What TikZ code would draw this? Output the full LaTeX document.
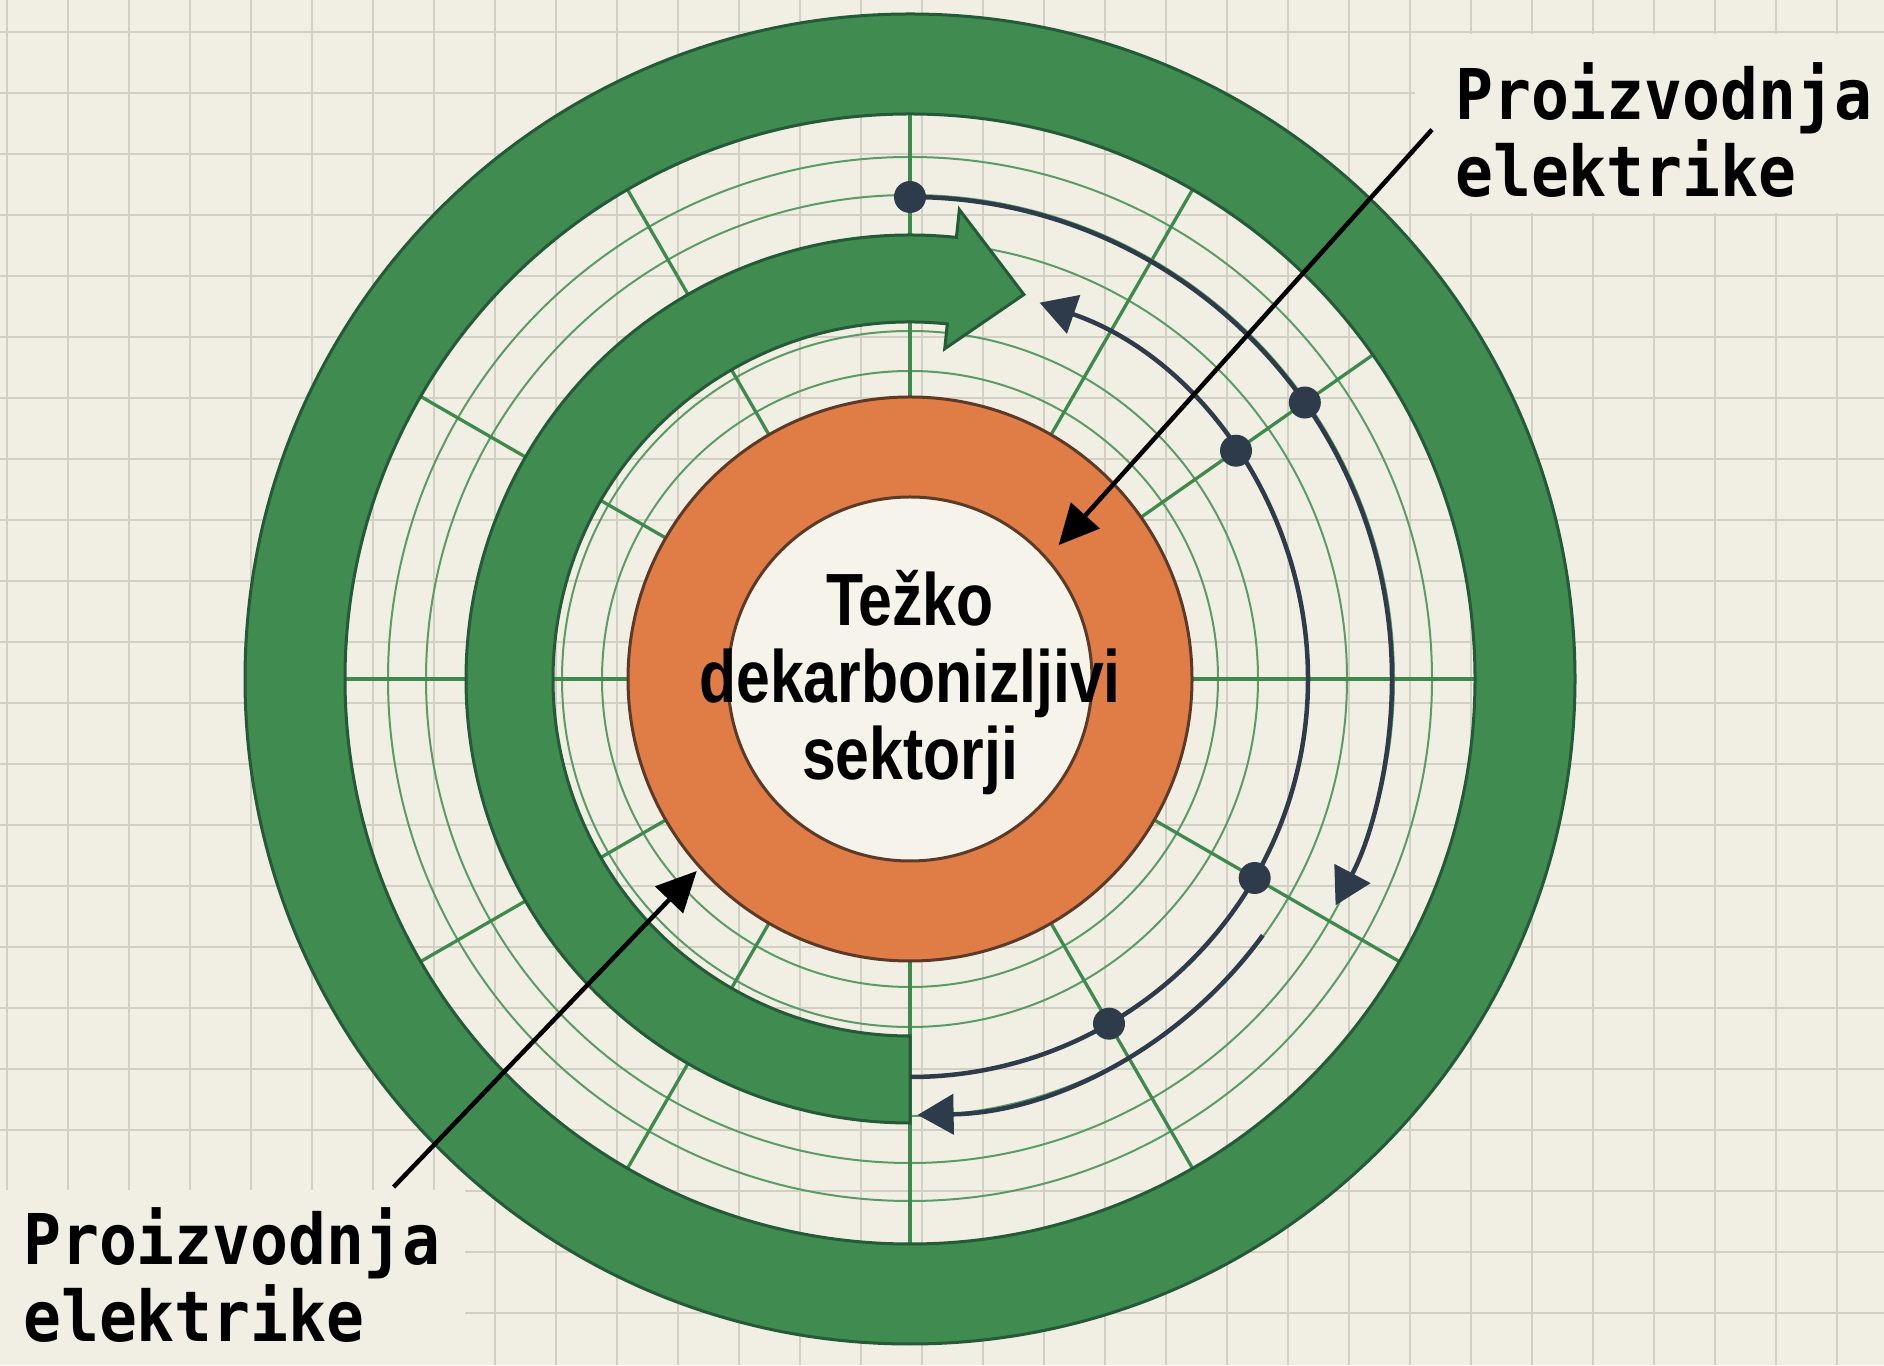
\documentclass[tikz,border=0pt]{standalone}
\usepackage{fontspec}
\setmainfont{Liberation Sans}
\newfontfamily\calloutfont[FakeStretch=0.9]{DejaVu Sans Mono}
\newfontfamily\hubfont[FakeStretch=0.82]{Liberation Sans}
\usepackage{tikz}
\usetikzlibrary{arrows.meta}
\definecolor{paper}{HTML}{F1EFE4}
\definecolor{gridline}{HTML}{D2CFC4}
\definecolor{leaf}{HTML}{3F8B50}
\definecolor{leafdark}{HTML}{245A37}
\definecolor{spoke}{HTML}{3E8A4B}
\definecolor{ember}{HTML}{E07C46}
\definecolor{emberdark}{HTML}{5B3A28}
\definecolor{slate}{HTML}{2D3B4A}
\definecolor{core}{HTML}{F5F3EA}
\tikzstyle{ring} = [draw=leafdark, line width=3pt, fill=leaf]
\tikzstyle{band} = [draw=leafdark, line width=3pt, fill=leaf]
\tikzstyle{rust} = [draw=emberdark, line width=3pt, fill=ember]
\tikzstyle{ringline} = [draw=spoke!85, line width=2pt]
\tikzstyle{spokeline} = [draw=spoke, line width=3.3pt]
\tikzstyle{flow} = [draw=slate, line width=4.5pt, -{Triangle[length=36pt,width=40pt]}]
\tikzstyle{pin} = [circle, fill=slate, inner sep=0pt, minimum size=32pt]
\tikzstyle{hub} = [align=center, inner sep=0pt,
    font=\hubfont\bfseries\fontsize{74}{77}\selectfont]
\tikzstyle{callouttext} = [align=left, inner sep=0pt,
    font=\calloutfont\bfseries\fontsize{70}{77}\selectfont]
\tikzstyle{callout} = [draw=black, line width=4.5pt, -{Triangle[length=40pt,width=38pt]}]

\begin{document}
\begin{tikzpicture}[x=1pt, y=1pt]
    \useasboundingbox (0,0) rectangle (1884,1365);
    % Paper and grid
    \fill[paper] (0,0) rectangle (1884,1365);
    \foreach \gx in {0,...,30}
        \draw[gridline, line width=2pt] (7+61*\gx,0) -- (7+61*\gx,1365);
    \foreach \gy in {0,...,22}
        \draw[gridline, line width=2pt] (0,1333-61*\gy) -- (1884,1333-61*\gy);
    \fill[paper] (1415,1152) rectangle (1884,1331);
    \fill[paper] (0,0) rectangle (465,175);
    \begin{scope}[shift={(910,686)}]
        % Rings and spokes
        \foreach \r in {308,348,437,484,522}
            \draw[ringline] (0,0) circle[radius=\r];
        \foreach \a in {0,35,60,90,120,150,180,210,240,270,300,330}
            \draw[spokeline] (\a:282) -- (\a:565);
        \path[ring, even odd rule] (0,0) circle[radius=665] (0,0) circle[radius=565];
        \path[band] (270:444) arc[start angle=270, end angle=84, radius=444]
            -- (84:472) -- (73.5:401) -- (84:332) -- (84:357)
            arc[start angle=84, end angle=270, radius=357] -- cycle;
        \fill[core] (0,0) circle[radius=182];
        \path[rust, even odd rule] (0,0) circle[radius=282] (0,0) circle[radius=182];
        % Flows
        \draw[flow] (90:482) arc[start angle=90, end angle=-28, radius=482];
        \draw[flow] (-90:398) arc[start angle=-90, end angle=71, radius=398];
        \draw[flow] (-36:436) arc[start angle=-36, end angle=-89, radius=436];
        % Place nodes
        \node[pin] (pinTop) at (90:482) {};
        \node[pin] (pinOuter) at (35:482) {};
        \node[pin] (pinInner) at (35:398) {};
        \node[pin] (pinLow) at (-30:398) {};
        \node[pin] (pinBase) at (-60:398) {};
        \node[hub] (hub) at (0,-4) {Težko\\dekarbonizljivi\\sektorji};
        \coordinate (tipTop) at (42:200);
        \coordinate (tipBot) at (222:287);
    \end{scope}
    \node[callouttext, anchor=north west] (prodTop) at (1455,1303) {Proizvodnja\\elektrike};
    \node[callouttext, anchor=north west] (prodBot) at (23,158) {Proizvodnja\\elektrike};
    % Draw edges
    \path[callout] ([xshift=-23pt]prodTop.west) -- (tipTop);
    \path[callout] ([shift={(-47pt,20pt)}]prodBot.north east) -- (tipBot);
\end{tikzpicture}
\end{document}
